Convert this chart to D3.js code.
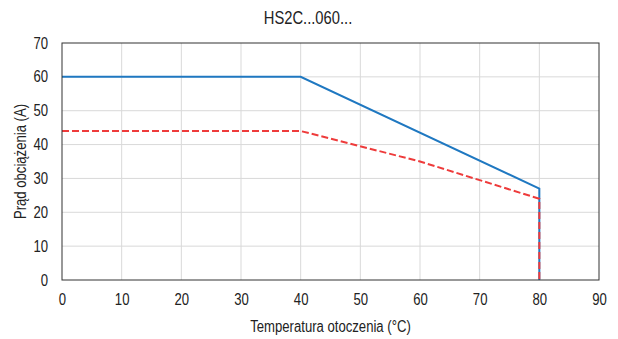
<!DOCTYPE html>
<html>
<head>
<meta charset="utf-8">
<script src="https://cdn.jsdelivr.net/npm/d3@7"></script>
<style>
  body { margin: 0; background: #fff; }
  text { font-family: "Liberation Sans", Arial, sans-serif; fill: #222; }
</style>
</head>
<body>
<svg id="chart" width="618" height="339"></svg>
<script>
// data
var title = "HS2C...060...";
var xLabel = "Temperatura otoczenia (°C)";
var yLabel = "Prąd obciążenia (A)";
var xTicks = [0, 10, 20, 30, 40, 50, 60, 70, 80, 90];
var yTicks = [0, 10, 20, 30, 40, 50, 60, 70];
var blueTemp = [0, 40, 80, 80];
var blueCurrent = [60, 60, 27, 0];
var redTemp = [0, 40, 60, 80, 80];
var redCurrent = [44, 44, 35, 24, 0];

var narrow = 0.82; // the original uses a condensed face

var svg = d3.select("#chart"),
    margin = {top: 43, right: 19, bottom: 59, left: 62},
    width = svg.attr("width") - margin.left - margin.right,
    height = svg.attr("height") - margin.top - margin.bottom,
    g = svg.append("g").attr("transform", "translate(" + margin.left + "," + margin.top + ")");

var x = d3.scaleLinear().domain([0, 90]).range([0, width]),
    y = d3.scaleLinear().domain([0, 70]).range([height, 0]);

// grid
g.append("g").selectAll("line")
  .data(xTicks.slice(1, -1))
  .enter().append("line")
    .attr("x1", function(d) { return x(d); }).attr("x2", function(d) { return x(d); })
    .attr("y1", 0).attr("y2", height)
    .attr("stroke", "#d9d9d9").attr("stroke-width", 1);

g.append("g").selectAll("line")
  .data(yTicks.slice(1, -1))
  .enter().append("line")
    .attr("x1", 0).attr("x2", width)
    .attr("y1", function(d) { return y(d); }).attr("y2", function(d) { return y(d); })
    .attr("stroke", "#d9d9d9").attr("stroke-width", 1);

// axes (labels only, frame drawn below)
var xAxis = g.append("g")
    .attr("transform", "translate(0," + height + ")")
    .call(d3.axisBottom(x).tickValues(xTicks).tickSize(0).tickPadding(14));
var yAxis = g.append("g")
    .call(d3.axisLeft(y).tickValues(yTicks).tickSize(0).tickPadding(14));
[xAxis, yAxis].forEach(function(a) {
  a.select(".domain").remove();
  a.attr("font-family", null).attr("font-size", null);
  a.selectAll("text")
    .style("font-size", "16px")
    .attr("fill", "#222")
    .attr("transform", function() {
      var tx = +d3.select(this).attr("x") || 0;
      d3.select(this).attr("x", 0);
      return "translate(" + tx + ",0) scale(" + narrow + ",1)";
    });
});

function toPoints(xs, ys) {
  return xs.map(function(t, i) { return {t: t, a: ys[i]}; });
}

var line = d3.line()
  .x(function(d) { return x(d.t); })
  .y(function(d) { return y(d.a); });

g.append("path")
  .datum(toPoints(blueTemp, blueCurrent))
  .attr("d", line)
  .attr("fill", "none")
  .attr("stroke", "#1f78c1")
  .attr("stroke-width", 2);

g.append("path")
  .datum(toPoints(redTemp, redCurrent))
  .attr("d", line)
  .attr("fill", "none")
  .attr("stroke", "#ee3b3b")
  .attr("stroke-width", 2)
  .attr("stroke-dasharray", "7,3");

// frame
g.append("rect")
  .attr("x", 0).attr("y", 0)
  .attr("width", width).attr("height", height)
  .attr("fill", "none")
  .attr("stroke", "#333")
  .attr("stroke-width", 1);

svg.append("text")
  .attr("transform", "translate(308,24) scale(" + narrow + ",1)")
  .attr("text-anchor", "middle")
  .style("font-size", "18px")
  .text(title);

svg.append("text")
  .attr("transform", "translate(" + (margin.left + width / 2) + ",332) scale(" + narrow + ",1)")
  .attr("text-anchor", "middle")
  .style("font-size", "16px")
  .text(xLabel);

svg.append("text")
  .attr("transform", "translate(26," + (margin.top + height / 2) + ") rotate(-90) scale(" + narrow + ",1)")
  .attr("text-anchor", "middle")
  .style("font-size", "16px")
  .text(yLabel);
</script>
</body>
</html>
